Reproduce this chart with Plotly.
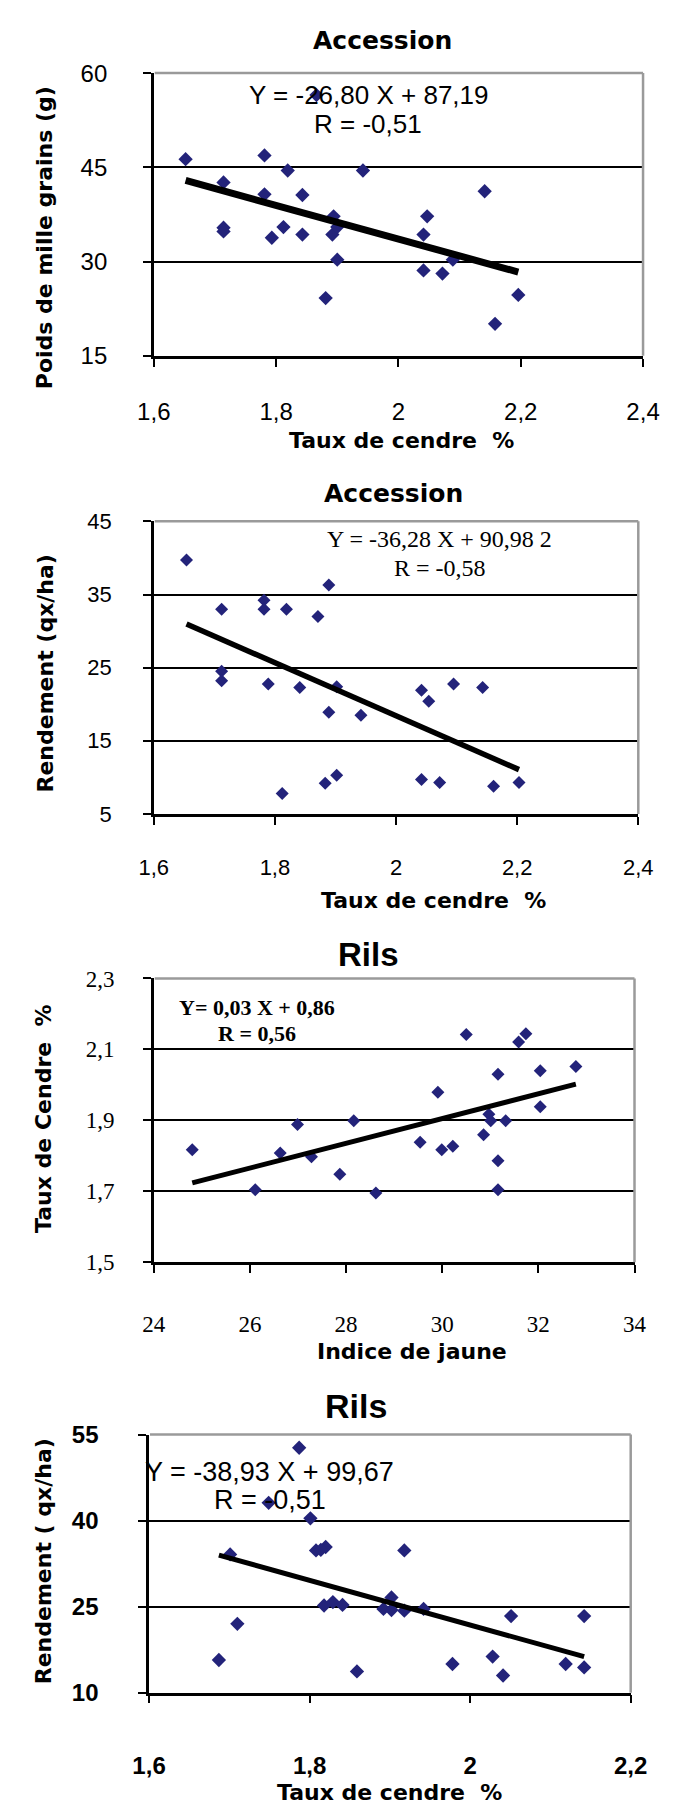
import plotly.graph_objects as go

W, H = 680, 1818

# ---------------- data ----------------
# Panel 1 : Accession - Poids de mille grains vs Taux de cendre
p1_x = [1.652, 1.781, 1.819, 1.942, 1.714, 1.781, 1.843, 2.141, 2.047, 1.894, 1.714, 1.714, 1.812,
        1.793, 1.843, 1.892, 1.900, 2.041, 1.900, 2.089, 2.041, 2.072, 1.881, 2.196, 2.158, 1.866]
p1_y = [46.3, 46.9, 44.5, 44.5, 42.6, 40.7, 40.6, 41.2, 37.2, 37.2, 35.4, 34.8, 35.5,
        33.8, 34.3, 34.3, 35.5, 34.3, 30.3, 30.3, 28.6, 28.1, 24.2, 24.7, 20.1, 56.5]
p1_slope, p1_inter = -26.80, 87.19
p1_eq = ["Y = -26,80 X + 87,19", "R = -0,51"]

# Panel 2 : Accession - Rendement vs Taux de cendre
p2_x = [1.654, 1.889, 1.712, 1.782, 1.782, 1.819, 1.871, 1.712, 1.712, 1.789, 1.841, 1.902, 2.042,
        2.054, 2.095, 2.143, 1.889, 1.942, 1.812, 1.883, 1.902, 2.042, 2.072, 2.161, 2.203]
p2_y = [39.7, 36.3, 33.0, 34.2, 33.0, 33.0, 32.0, 24.5, 23.2, 22.75, 22.3, 22.4, 21.9,
        20.4, 22.75, 22.3, 18.9, 18.5, 7.8, 9.2, 10.3, 9.7, 9.3, 8.8, 9.3]
p2_slope, p2_inter = -36.28, 90.982
p2_eq = ["Y = -36,28 X + 90,98 2", "R = -0,58"]

# Panel 3 : Rils - Taux de cendre vs Indice de jaune
p3_x = [24.80, 26.11, 26.63, 26.99, 27.28, 27.87, 28.16, 28.62, 29.54, 29.91, 29.99, 30.22, 30.50,
        30.86, 30.97, 31.01, 31.32, 31.16, 31.16, 31.16, 31.59, 31.74, 32.04, 32.04, 32.78]
p3_y = [1.817, 1.704, 1.808, 1.888, 1.797, 1.748, 1.899, 1.695, 1.838, 1.979, 1.817, 1.827, 2.142,
        1.859, 1.917, 1.899, 1.899, 2.030, 1.786, 1.704, 2.121, 2.144, 2.040, 1.938, 2.052]
p3_slope, p3_inter = 0.0349, 0.858
p3_eq = ["Y= 0,03 X + 0,86", "R = 0,56"]

# Panel 4 : Rils - Rendement vs Taux de cendre
p4_x = [1.787, 1.749, 1.801, 1.808, 1.820, 1.814, 1.918, 1.701, 1.710, 1.818, 1.829, 1.841, 1.892,
        1.902, 1.902, 1.918, 1.942, 2.051, 2.142, 1.687, 1.859, 1.978, 2.028, 2.041, 2.119, 2.142]
p4_y = [52.7, 43.1, 40.4, 34.8, 35.4, 34.9, 34.8, 34.1, 22.0, 25.2, 25.8, 25.3, 24.6,
        26.6, 24.4, 24.3, 24.6, 23.35, 23.35, 15.7, 13.7, 15.0, 16.3, 13.0, 15.0, 14.4]
p4_slope, p4_inter = -38.93, 99.67
p4_eq = ["Y = -38,93 X + 99,67", "R = -0,51"]

# tick values / labels
p1_xt, p1_xl = [1.6, 1.8, 2.0, 2.2, 2.4], ["1,6", "1,8", "2", "2,2", "2,4"]
p1_yt, p1_yl = [15, 30, 45, 60], ["15", "30", "45", "60"]
p2_xt, p2_xl = [1.6, 1.8, 2.0, 2.2, 2.4], ["1,6", "1,8", "2", "2,2", "2,4"]
p2_yt, p2_yl = [5, 15, 25, 35, 45], ["5", "15", "25", "35", "45"]
p3_xt, p3_xl = [24, 26, 28, 30, 32, 34], ["24", "26", "28", "30", "32", "34"]
p3_yt, p3_yl = [1.5, 1.7, 1.9, 2.1, 2.3], ["1,5", "1,7", "1,9", "2,1", "2,3"]
p4_xt, p4_xl = [1.6, 1.8, 2.0, 2.2], ["1,6", "1,8", "2", "2,2"]
p4_yt, p4_yl = [10, 25, 40, 55], ["10", "25", "40", "55"]

titles = ["Accession", "Accession", "Rils", "Rils"]
xtitles = ["Taux de cendre  %", "Taux de cendre  %", "Indice de jaune", "Taux de cendre  %"]
ytitles = ["Poids de mille grains (g)", "Rendement (qx/ha)", "Taux de Cendre  %", "Rendement ( qx/ha)"]

# ---------------- styling / layout ----------------
SANS = "Liberation Sans, Arial, sans-serif"
WIDE = "DejaVu Sans, Liberation Sans, sans-serif"
SERIF = "Liberation Serif, Times New Roman, serif"
MARK = "#23237a"

def fx(px):
    return px / W

def fy(py):
    return 1 - py / H

panels = [
    dict(x=p1_x, y=p1_y, slope=p1_slope, inter=p1_inter, eq=p1_eq,
         xt=p1_xt, xl=p1_xl, yt=p1_yt, yl=p1_yl,
         box=(144, 659, 60, 347), msize=11, lw=7,
         tickfont=dict(family=SANS, size=24, color="black"),
         eqfont=dict(family=SANS, size=26, color="black"), eqpos=(370, 82, 112),
         title=dict(x=385, y=27, font=dict(family=WIDE, size=25, color="black", weight="bold")),
         xt_y=433, xt_x=405, yt_x=29, yt_y=227,
         ystand=31, xstand=25),
    dict(x=p2_x, y=p2_y, slope=p2_slope, inter=p2_inter, eq=p2_eq,
         xt=p2_xt, xl=p2_xl, yt=p2_yt, yl=p2_yl,
         box=(144, 654, 515, 812), msize=10, lw=5.5,
         tickfont=dict(family=SANS, size=22, color="black"),
         eqfont=dict(family=SERIF, size=24, color="black"), eqpos=(445, 533, 562),
         title=dict(x=396, y=487, font=dict(family=WIDE, size=25, color="black", weight="bold")),
         xt_y=900, xt_x=438, yt_x=30, yt_y=670,
         ystand=27, xstand=24),
    dict(x=p3_x, y=p3_y, slope=p3_slope, inter=p3_inter, eq=p3_eq,
         xt=p3_xt, xl=p3_xl, yt=p3_yt, yl=p3_yl,
         box=(144, 650, 979, 1267), msize=10, lw=5,
         tickfont=dict(family=SERIF, size=23, color="black"),
         eqfont=dict(family=SERIF, size=22, color="black", weight="bold"), eqpos=(253, 1008, 1035),
         title=dict(x=370, y=955, font=dict(family=SANS, size=33, color="black", weight="bold")),
         xt_y=1358, xt_x=416, yt_x=28, yt_y=1122,
         ystand=24, xstand=31),
    dict(x=p4_x, y=p4_y, slope=p4_slope, inter=p4_inter, eq=p4_eq,
         xt=p4_xt, xl=p4_xl, yt=p4_yt, yl=p4_yl,
         box=(139, 646, 1442, 1704), msize=11, lw=5,
         tickfont=dict(family=SANS, size=24, color="black", weight="bold"),
         eqfont=dict(family=SANS, size=27, color="black"), eqpos=(266, 1480, 1508),
         title=dict(x=357, y=1413, font=dict(family=SANS, size=34, color="black", weight="bold")),
         xt_y=1805, xt_x=392, yt_x=28, yt_y=1571,
         ystand=35, xstand=42),
]

axis_title_font = dict(family=WIDE, size=22, color="black", weight="bold")

fig = go.Figure()
annotations = []
shapes = []
layout = {}

for i, p in enumerate(panels, start=1):
    xa = "x" if i == 1 else f"x{i}"
    ya = "y" if i == 1 else f"y{i}"
    x0, x1, y0, y1 = p["box"]
    # scatter points
    fig.add_trace(go.Scatter(
        x=p["x"], y=p["y"], mode="markers", xaxis=xa, yaxis=ya,
        marker=dict(symbol="diamond", size=p["msize"], color=MARK, line=dict(width=0)),
        showlegend=False, hoverinfo="skip"))
    # trend line across the data range
    lx = [min(p["x"]), max(p["x"])]
    ly = [p["slope"] * v + p["inter"] for v in lx]
    fig.add_trace(go.Scatter(
        x=lx, y=ly, mode="lines", xaxis=xa, yaxis=ya,
        line=dict(color="black", width=p["lw"]), showlegend=False, hoverinfo="skip"))

    xr = [p["xt"][0], p["xt"][-1]]
    yr = [p["yt"][0], p["yt"][-1]]
    layout["xaxis" if i == 1 else f"xaxis{i}"] = dict(
        domain=[fx(x0), fx(x1)], anchor=ya, range=xr,
        tickvals=p["xt"], ticktext=p["xl"], tickfont=p["tickfont"],
        ticks="outside", ticklen=8, tickwidth=2, tickcolor="black",
        showline=True, linecolor="black", linewidth=2.5,
        showgrid=False, zeroline=False, ticklabelstandoff=p["xstand"], fixedrange=True)
    layout["yaxis" if i == 1 else f"yaxis{i}"] = dict(
        domain=[fy(y1), fy(y0)], anchor=xa, range=yr,
        tickvals=p["yt"], ticktext=p["yl"], tickfont=p["tickfont"],
        ticks="outside", ticklen=8, tickwidth=2, tickcolor="black",
        showline=True, linecolor="black", linewidth=2.5,
        showgrid=True, gridcolor="black", gridwidth=2.4, zeroline=False,
        ticklabelstandoff=p["ystand"], fixedrange=True)

    # grey top and right frame
    shapes.append(dict(type="line", xref="paper", yref="paper",
                       x0=fx(x0 + 1), x1=fx(x1), y0=fy(y0), y1=fy(y0),
                       line=dict(color="#9a9a9a", width=2.5), layer="above"))
    shapes.append(dict(type="line", xref="paper", yref="paper",
                       x0=fx(x1), x1=fx(x1), y0=fy(y0), y1=fy(y1),
                       line=dict(color="#9a9a9a", width=2.5), layer="above"))

    # title
    t = p["title"]
    annotations.append(dict(text=titles[i - 1], xref="paper", yref="paper",
                            x=fx(t["x"]), y=fy(t["y"]), xanchor="center", yanchor="middle",
                            showarrow=False, font=t["font"]))
    # x axis title
    annotations.append(dict(text=xtitles[i - 1], xref="paper", yref="paper",
                            x=fx(p["xt_x"]), y=fy(p["xt_y"]), xanchor="center", yanchor="middle",
                            showarrow=False, font=axis_title_font))
    # y axis title
    annotations.append(dict(text=ytitles[i - 1], xref="paper", yref="paper", textangle=-90,
                            x=fx(p["yt_x"]), y=fy(p["yt_y"]), xanchor="center", yanchor="middle",
                            showarrow=False, font=axis_title_font))
    # equation
    ex, ey1, ey2 = p["eqpos"]
    annotations.append(dict(text=p["eq"][0], xref="paper", yref="paper",
                            x=fx(ex), y=fy(ey1), xanchor="center", yanchor="middle",
                            showarrow=False, font=p["eqfont"]))
    annotations.append(dict(text=p["eq"][1], xref="paper", yref="paper",
                            x=fx(ex), y=fy(ey2), xanchor="center", yanchor="middle",
                            showarrow=False, font=p["eqfont"]))

fig.update_layout(
    width=W, height=H, margin=dict(l=0, r=0, t=0, b=0),
    paper_bgcolor="white", plot_bgcolor="white",
    showlegend=False, annotations=annotations, shapes=shapes,
    **layout)

fig.write_html("out.html", config={"displayModeBar": False})
